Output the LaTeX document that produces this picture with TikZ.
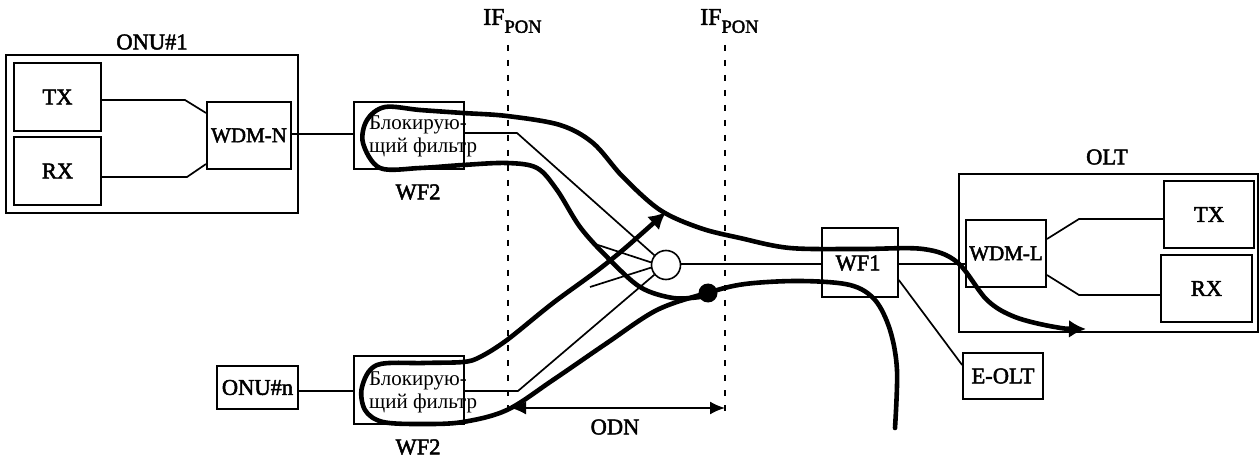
\documentclass[tikz,border=0pt]{standalone}
\usepackage{fontspec}
\setmainfont{Liberation Serif}
\newfontfamily\semi[FakeBold=2.2]{Liberation Serif}
\usetikzlibrary{arrows.meta}
\tikzset{
  thin line/.style={line width=1.7pt,black},
  thick curve/.style={line width=4.6pt,line cap=round,line join=round},
  boxx/.style={draw,line width=1.9pt,inner sep=0pt,font=\fontsize{22.5}{24}\selectfont\semi},
  wdmbox/.style={draw,line width=1.9pt,inner sep=0pt,font=\fontsize{21}{23}\selectfont\semi},
  wfbox/.style={draw,line width=1.6pt,inner sep=0pt},
  lab/.style={inner sep=0pt,font=\fontsize{22.5}{24}\selectfont\semi},
  filt/.style={inner sep=0pt,align=left,font=\fontsize{21}{23}\selectfont},
  ifline/.style={line width=1.8pt,dash pattern=on 6pt off 9pt},
  iflab/.style={inner sep=0pt,anchor=west,font=\fontsize{24}{25}\selectfont\semi}
}
\newcommand{\ifpon}{IF\raisebox{-8pt}{\fontsize{18.5}{20}\selectfont PON}}
\begin{document}
\begin{tikzpicture}[x=1pt,y=-1pt]
\useasboundingbox (0,0) rectangle (1259,457);
% ONU#1
\node[draw,line width=2.2pt,minimum width=292pt,minimum height=158pt,inner sep=0pt] (onu1) at (152,134) {};
\node[lab] (onu1lab) at (152,42) {ONU\#1};
\node[boxx,minimum width=87pt,minimum height=68pt] (tx1) at (57.5,97) {TX};
\node[boxx,minimum width=87pt,minimum height=68pt] (rx1) at (57.5,171) {RX};
\node[wdmbox,minimum width=84pt,minimum height=67pt] (wdmn) at (249,135.5) {WDM-N};
\coordinate (tx1b) at (185,100);
\coordinate (rx1b) at (187,177);
\draw[thin line] (tx1.east |- tx1b) -- (tx1b) -- (wdmn.west |- 0,113);
\draw[thin line] (rx1.east |- rx1b) -- (rx1b) -- (wdmn.west |- 0,164);
% WF2 upper
\node[wfbox,minimum width=110pt,minimum height=67pt] (wf2a) at (409,135.5) {};
\node[filt,anchor=west] (wf2atxt) at (369,136) {Блокирую-\\щий фильтр};
\node[lab] (wf2alab) at (418,192) {WF2};
\draw[thin line] (wdmn.east |- 0,134) -- (wf2a.west |- 0,134);
% WF2 lower
\node[wfbox,minimum width=110pt,minimum height=68pt] (wf2b) at (409,390) {};
\node[filt,anchor=west] (wf2btxt) at (369,392) {Блокирую-\\щий фильтр};
\node[lab] (wf2blab) at (418,447) {WF2};
\node[boxx,minimum width=81pt,minimum height=43pt] (onun) at (257.5,387.5) {ONU\#n};
\draw[thin line] (onun.east |- 0,391) -- (wf2b.west |- 0,391);
% Splitter
\node[draw,circle,fill=white,line width=1.6pt,minimum size=29pt,inner sep=0pt] (split) at (666,265) {};
\coordinate (ka) at (517,133);
\coordinate (kb) at (518,391);
\coordinate (sa) at (598,245);
\coordinate (sb) at (590,287);
\draw[thin line] (wf2a.east |- ka) -- (ka) -- (split.140);
\draw[thin line] (wf2b.east |- kb) -- (kb) -- (split.220);
\draw[thin line] (sa) -- (split.170);
\draw[thin line] (sb) -- (split.190);
% WF1
\node[wfbox,minimum width=76pt,minimum height=69pt] (wf1) at (860,262.5) {};
\node[lab] (wf1lab) at (858,263) {WF1};
\node[boxx,line width=1.7pt,minimum width=80pt,minimum height=46pt] (eolt) at (1003,376) {E-OLT};
\draw[thin line] (split.east |- 0,264) -- (wf1.west |- 0,264);
\draw[thin line] (wf1.east |- 0,280) -- (eolt.west |- 0,365);
% OLT
\node[draw,line width=1.8pt,minimum width=299pt,minimum height=158pt,inner sep=0pt] (olt) at (1108.5,253) {};
\node[lab] (oltlab) at (1107,157) {OLT};
\node[boxx,minimum width=90pt,minimum height=67pt] (tx2) at (1209,214.5) {TX};
\node[boxx,line width=2.4pt,minimum width=91pt,minimum height=67pt] (rx2) at (1206.5,288.5) {RX};
\node[wdmbox,minimum width=80pt,minimum height=67pt] (wdml) at (1006,253.5) {WDM-L};
\coordinate (tx2b) at (1079,219);
\coordinate (rx2b) at (1079,295);
\draw[thin line] (wdml.east |- 0,239) -- (tx2b) -- (tx2.west |- tx2b);
\draw[thin line] (wdml.east |- 0,275) -- (rx2b) -- (rx2.west |- rx2b);
\draw[thin line] (wf1.east |- 0,264) -- (wdml.west |- 0,264);
% IF lines
\node[iflab] (if1) at (483,21) {\ifpon};
\node[iflab] (if2) at (700,21) {\ifpon};
\coordinate (d1a) at (508,45);
\coordinate (d1b) at (508,414);
\coordinate (d2a) at (725,45);
\coordinate (d2b) at (725,414);
\draw[ifline] (d1a) -- (d1b);
\draw[ifline] (d2a) -- (d2b);
% ODN
\coordinate (oa) at (511,408);
\coordinate (ob) at (725,408);
\draw[line width=1.8pt,{Latex[length=15pt,width=13pt]}-{Latex[length=15pt,width=13pt]}] (oa) -- (ob);
\node[lab] (odn) at (615,427) {ODN};
% Thick curves
\draw[thick curve,{Latex[length=17pt,width=18pt]}-] plot[smooth,tension=0.55] coordinates {(1086,329) (1055,327) (1015,317) (987,300) (957,262) (923,249) (860,249) (790,248) (740,238) (700,228) (660,210) (623,177) (593,143) (560,125) (507,116) (463,113) (420,110) (385,107) (367,120) (363,143) (380,168) (420,168) (463,165) (507,163) (537,168) (557,190) (580,227) (607,257) (640,287) (673,298) (700,297)};
\draw[thick curve,{Latex[length=17pt,width=18pt]}-] plot[smooth,tension=0.55] coordinates {(666,212) (607,263) (553,303) (507,340) (480,357) (463,362) (423,363) (377,365) (362,387) (365,410) (383,422) (423,424) (463,422) (507,410) (553,380) (607,343) (657,310) (707,293) (745,284) (800,281) (850,285) (875,300) (890,330) (897,370) (895,428)};
\node[circle,fill=black,minimum size=19pt,inner sep=0pt] (dot) at (708,293) {};
\end{tikzpicture}
\end{document}
